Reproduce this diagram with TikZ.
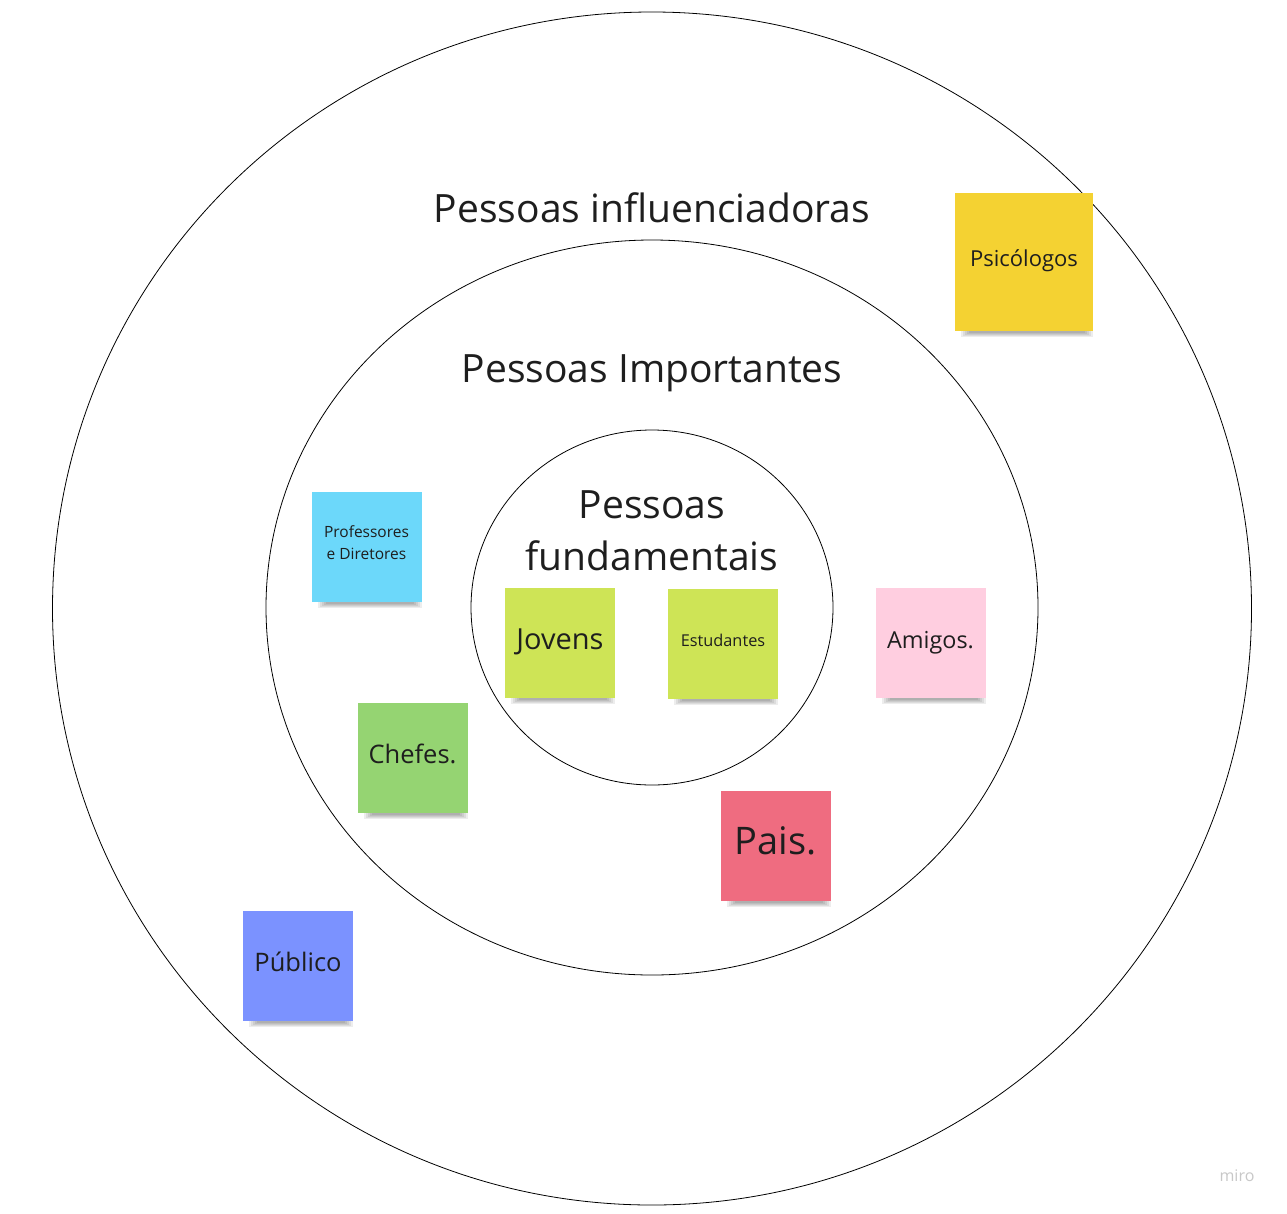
\documentclass[tikz,border=0pt]{standalone}
\usepackage{fontspec}
\setmainfont{Open Sans}
\definecolor{ink}{HTML}{1E1E1E}
\definecolor{cYellow}{HTML}{F4D232}
\definecolor{cCyan}{HTML}{6CD8FA}
\definecolor{cLime}{HTML}{CEE456}
\definecolor{cPink}{HTML}{FFCEE0}
\definecolor{cGreen}{HTML}{95D472}
\definecolor{cRed}{HTML}{EF6C80}
\definecolor{cBlue}{HTML}{7B92FF}
\definecolor{mirogray}{HTML}{C8C8C8}
\tikzset{
  ring/.style={draw=black, line width=0.8pt},
  bigtitle/.style={text=ink, font=\fontsize{39}{52}\selectfont, align=center, inner sep=0pt},
  note/.style={rectangle, inner sep=0pt, text=ink, align=center, draw=none},
}
\newcommand\stickynote[8]{%
  \foreach \k in {0,1,2,3,4}{%
    \fill[black,opacity=0.07] ({#2-#4/2+14-2*\k},{#3+#4/2-2}) rectangle ({#2+#4/2-8+2*\k},{#3+#4/2+2+\k});
  }
  \node[note, fill=#5, minimum width=#4, minimum height=#4] (#1) at (#2,#3) {};
  \node[note, font={\fontsize{#6}{22}\selectfont}] (#1-t) at (#2,#3+#7) {#8};
}
\begin{document}
\begin{tikzpicture}[x=1pt,y=-1pt]
\useasboundingbox (0,0) rectangle (1287,1213);
\fill[white] (0,0) rectangle (1287,1213);
% rings
\draw[ring] (652,608.5) ellipse [x radius=599.5, y radius=596.5];
\draw[ring] (652,607.5) ellipse [x radius=386, y radius=367.5];
\draw[ring] (652,607.5) ellipse [x radius=181, y radius=177.5];
% titles
\node[bigtitle] (tInf) at (652,208) {Pessoas influenciadoras};
\node[bigtitle] (tImp) at (652,373) {Pessoas Importantes};
\node[bigtitle] (tFun) at (652,531) {Pessoas\\fundamentais};
% notes
\stickynote{psi}{1024}{262}{138}{cYellow}{22}{-1}{Psicólogos}
\stickynote{prof}{366.5}{546.5}{110}{cCyan}{15.5}{-4}{Professores\\e Diretores}
\stickynote{jov}{560}{643}{110}{cLime}{29}{-1}{Jovens}
\stickynote{est}{723}{643.5}{110}{cLime}{16.3}{-3}{Estudantes}
\stickynote{ami}{930.5}{643}{110}{cPink}{23.4}{0}{Amigos.}
\stickynote{che}{412.5}{758}{110}{cGreen}{25.5}{-4}{Chefes.}
\stickynote{pai}{775.5}{845.5}{110}{cRed}{38}{-5}{Pais.}
\stickynote{pub}{298}{966}{110}{cBlue}{25.5}{-4}{Público}
% watermark
\node[text=mirogray, font=\fontsize{16}{19}\selectfont, inner sep=0pt] (miro) at (1237,1176) {miro};
\end{tikzpicture}
\end{document}
